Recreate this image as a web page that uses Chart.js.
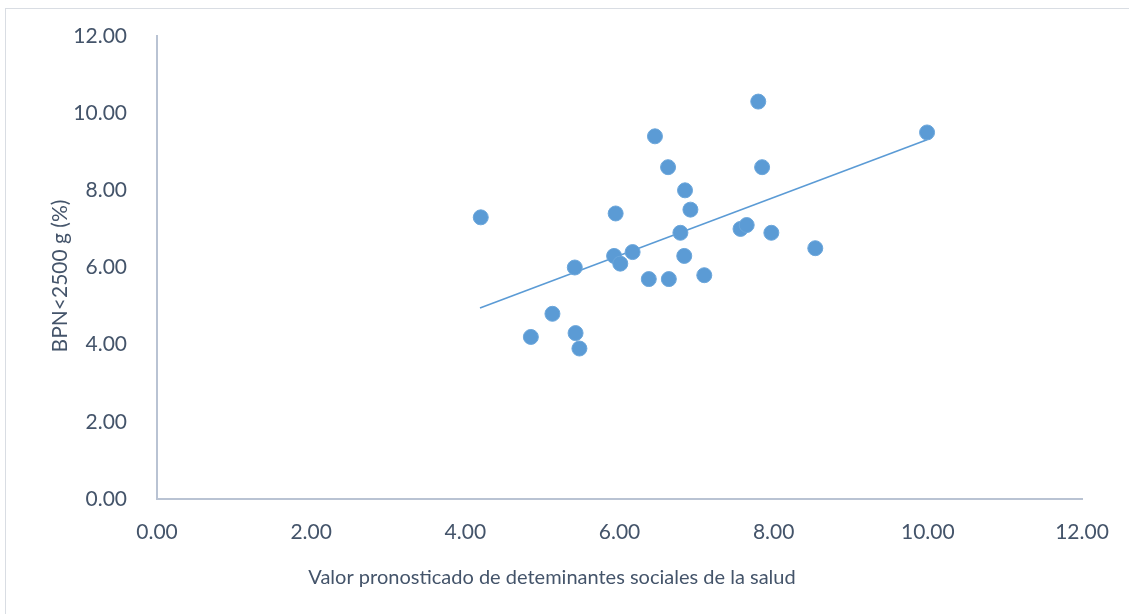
<!DOCTYPE html>
<html>
<head>
<meta charset="utf-8">
<script src="https://cdn.jsdelivr.net/npm/chart.js@4/dist/chart.umd.min.js"></script>
<style>
    html, body { margin: 0; padding: 0; background: #fff; }
    #wrap { position: relative; width: 1129px; height: 614px; overflow: hidden; }
    #frame { position: absolute; left: 5px; top: 8px; width: 1140px; height: 620px; border: 1px solid #D9DDE3; box-sizing: border-box; }
    canvas { position: absolute; left: 0; top: 0; }
</style>
</head>
<body>
<div id="wrap">
    <div id="frame"></div>
    <canvas id="scatter-chart" width="1129" height="614"></canvas>
</div>
<script>
// valores
const xValues = [4.20, 4.85, 5.13, 5.42, 5.43, 5.48, 5.95, 5.93, 6.01, 6.17, 6.38, 6.46, 6.63, 6.64, 6.85, 6.79, 6.84, 6.92, 7.10, 7.57, 7.65, 7.80, 7.85, 7.97, 8.54, 9.99];
const yValues = [7.30, 4.20, 4.80, 6.00, 4.30, 3.90, 7.40, 6.30, 6.10, 6.40, 5.70, 9.40, 8.60, 5.70, 8.00, 6.90, 6.30, 7.50, 5.80, 7.00, 7.10, 10.30, 8.60, 6.90, 6.50, 9.50];

// extremos de la línea de tendencia
const trendX = [4.19, 9.99];
const trendY = [4.95, 9.31];

const tickValues = [0, 2, 4, 6, 8, 10, 12];

const xTitle = 'Valor pronosticado de deteminantes sociales de la salud';
const yTitle = 'BPN<2500 g (%)';

const textColor = '#44546A';
const axisColor = '#B9C3D3';
const pointColor = '#5B9BD5';
const fontFamily = 'Lato, "Open Sans", sans-serif';

document.addEventListener('DOMContentLoaded', function() {
    initializeChart();
});

const axisTitles = {
    id: 'axisTitles',
    afterDraw(chart) {
        const ctx = chart.ctx;
        ctx.save();
        ctx.fillStyle = textColor;
        ctx.textAlign = 'center';
        ctx.textBaseline = 'middle';
        ctx.font = '20px ' + fontFamily;
        ctx.fillText(xTitle, 552, 578);
        ctx.font = '21px ' + fontFamily;
        ctx.translate(60, 276);
        ctx.rotate(-Math.PI / 2);
        ctx.fillText(yTitle, 0, 0);
        ctx.restore();
    }
};

function initializeChart() {
    const ctx = document.getElementById('scatter-chart').getContext('2d');
    const points = xValues.map((x, i) => ({ x: x, y: yValues[i] }));
    const trend = trendX.map((x, i) => ({ x: x, y: trendY[i] }));

    new Chart(ctx, {
        type: 'scatter',
        data: {
            datasets: [{
                label: 'BPN',
                data: points,
                backgroundColor: pointColor,
                borderColor: '#6BA6DB',
                borderWidth: 1,
                pointRadius: 7.5,
                pointHoverRadius: 7.5
            }, {
                type: 'line',
                label: 'Tendencia',
                data: trend,
                borderColor: pointColor,
                borderWidth: 1.6,
                pointRadius: 0,
                fill: false
            }]
        },
        options: {
            responsive: false,
            animation: false,
            devicePixelRatio: 1,
            layout: {
                padding: { top: 36, right: 47, left: 0, bottom: 0 }
            },
            plugins: {
                legend: { display: false },
                tooltip: { enabled: false }
            },
            scales: {
                x: {
                    type: 'linear',
                    min: 0,
                    max: 12,
                    afterFit: scale => { scale.height = 614 - 499; },
                    afterBuildTicks: scale => { scale.ticks = tickValues.map(v => ({ value: v })); },
                    grid: { display: false },
                    border: { display: true, color: axisColor, width: 2 },
                    ticks: {
                        color: textColor,
                        font: { family: fontFamily, size: 21 },
                        padding: 13,
                        maxRotation: 0,
                        callback: value => value.toFixed(2)
                    }
                },
                y: {
                    type: 'linear',
                    min: 0,
                    max: 12,
                    afterFit: scale => { scale.width = 157; },
                    afterBuildTicks: scale => { scale.ticks = tickValues.map(v => ({ value: v })); },
                    grid: { display: false },
                    border: { display: true, color: axisColor, width: 2 },
                    ticks: {
                        color: textColor,
                        font: { family: fontFamily, size: 21 },
                        padding: 22,
                        callback: value => value.toFixed(2)
                    }
                }
            }
        },
        plugins: [axisTitles]
    });
}
</script>
</body>
</html>
